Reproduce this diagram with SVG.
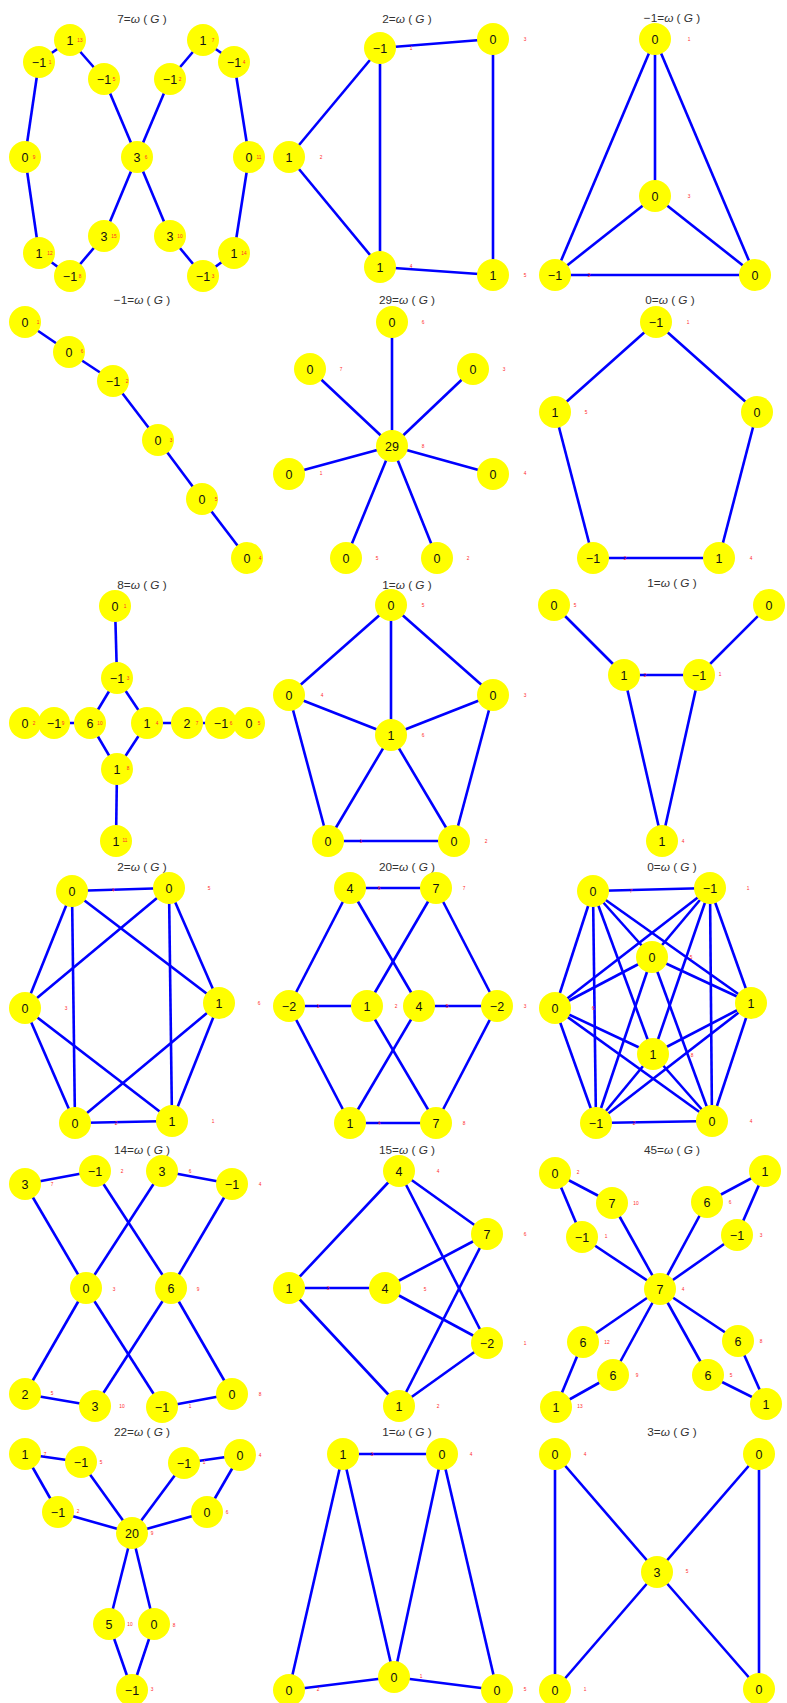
<svg xmlns="http://www.w3.org/2000/svg" width="787" height="1703" viewBox="0 0 787 1703">
<style>
.e line{stroke:#0000ff;stroke-width:2.6}
.n circle{fill:#ffff00}
.v{font-family:"Liberation Sans",Arial,sans-serif;font-size:12.5px;text-anchor:middle;fill:#111}
.l{font-family:"Liberation Sans",Arial,sans-serif;font-size:4.8px;text-anchor:middle;fill:#ff2a2a}
.t{font-family:"Liberation Sans",Arial,sans-serif;font-size:11.8px;text-anchor:middle;fill:#333}
.i{font-style:italic}
</style>
<rect width="787" height="1703" fill="#ffffff"/>
<g id="titles" class="t">
<text x="142" y="23">7=<tspan class="i">ω</tspan> ( <tspan class="i">G</tspan> )</text>
<text x="407" y="23">2=<tspan class="i">ω</tspan> ( <tspan class="i">G</tspan> )</text>
<text x="672" y="22">−1=<tspan class="i">ω</tspan> ( <tspan class="i">G</tspan> )</text>
<text x="142" y="304">−1=<tspan class="i">ω</tspan> ( <tspan class="i">G</tspan> )</text>
<text x="407" y="304">29=<tspan class="i">ω</tspan> ( <tspan class="i">G</tspan> )</text>
<text x="670" y="304">0=<tspan class="i">ω</tspan> ( <tspan class="i">G</tspan> )</text>
<text x="142" y="589">8=<tspan class="i">ω</tspan> ( <tspan class="i">G</tspan> )</text>
<text x="407" y="589">1=<tspan class="i">ω</tspan> ( <tspan class="i">G</tspan> )</text>
<text x="672" y="587">1=<tspan class="i">ω</tspan> ( <tspan class="i">G</tspan> )</text>
<text x="142" y="871">2=<tspan class="i">ω</tspan> ( <tspan class="i">G</tspan> )</text>
<text x="407" y="871">20=<tspan class="i">ω</tspan> ( <tspan class="i">G</tspan> )</text>
<text x="672" y="871">0=<tspan class="i">ω</tspan> ( <tspan class="i">G</tspan> )</text>
<text x="142" y="1154">14=<tspan class="i">ω</tspan> ( <tspan class="i">G</tspan> )</text>
<text x="407" y="1154">15=<tspan class="i">ω</tspan> ( <tspan class="i">G</tspan> )</text>
<text x="672" y="1154">45=<tspan class="i">ω</tspan> ( <tspan class="i">G</tspan> )</text>
<text x="142" y="1436">22=<tspan class="i">ω</tspan> ( <tspan class="i">G</tspan> )</text>
<text x="407" y="1436">1=<tspan class="i">ω</tspan> ( <tspan class="i">G</tspan> )</text>
<text x="672" y="1436">3=<tspan class="i">ω</tspan> ( <tspan class="i">G</tspan> )</text>
</g>
<g id="connectors" class="e">
<!-- P1 -->
<line x1="70" y1="40" x2="39" y2="62"/><line x1="70" y1="40" x2="104" y2="79"/><line x1="39" y1="62" x2="25" y2="157"/><line x1="25" y1="157" x2="39" y2="253"/><line x1="39" y1="253" x2="70" y2="276"/><line x1="70" y1="276" x2="104" y2="236"/><line x1="104" y1="236" x2="137" y2="157"/><line x1="104" y1="79" x2="137" y2="157"/><line x1="170" y1="79" x2="137" y2="157"/><line x1="137" y1="157" x2="170" y2="236"/><line x1="203" y1="40" x2="170" y2="79"/><line x1="203" y1="40" x2="234" y2="62"/><line x1="234" y1="62" x2="249" y2="157"/><line x1="249" y1="157" x2="234" y2="253"/><line x1="234" y1="253" x2="203" y2="276"/><line x1="203" y1="276" x2="170" y2="236"/>
<!-- P2 -->
<line x1="380" y1="48" x2="493" y2="39"/><line x1="380" y1="48" x2="289" y2="157"/><line x1="380" y1="48" x2="380" y2="267"/><line x1="289" y1="157" x2="380" y2="267"/><line x1="380" y1="267" x2="493" y2="275"/><line x1="493" y1="39" x2="493" y2="275"/>
<!-- P3 -->
<line x1="655" y1="39" x2="655" y2="196"/><line x1="655" y1="39" x2="555" y2="275"/><line x1="655" y1="39" x2="755" y2="275"/><line x1="655" y1="196" x2="555" y2="275"/><line x1="655" y1="196" x2="755" y2="275"/><line x1="555" y1="275" x2="755" y2="275"/>
<!-- P4 -->
<line x1="25" y1="322" x2="69" y2="352"/><line x1="69" y1="352" x2="113" y2="381"/><line x1="113" y1="381" x2="158" y2="440"/><line x1="158" y1="440" x2="202" y2="499"/><line x1="202" y1="499" x2="247" y2="558"/>
<!-- P5 -->
<line x1="392" y1="446" x2="392" y2="322"/><line x1="392" y1="446" x2="310" y2="369"/><line x1="392" y1="446" x2="473" y2="369"/><line x1="392" y1="446" x2="289" y2="474"/><line x1="392" y1="446" x2="493" y2="474"/><line x1="392" y1="446" x2="346" y2="558"/><line x1="392" y1="446" x2="437" y2="558"/>
<!-- P6 -->
<line x1="656" y1="322" x2="555" y2="412"/><line x1="656" y1="322" x2="757" y2="412"/><line x1="555" y1="412" x2="593" y2="558"/><line x1="593" y1="558" x2="719" y2="558"/><line x1="719" y1="558" x2="757" y2="412"/>
<!-- P7 -->
<line x1="115" y1="606" x2="117" y2="678"/><line x1="117" y1="678" x2="90" y2="723"/><line x1="117" y1="678" x2="147" y2="723"/><line x1="90" y1="723" x2="117" y2="769"/><line x1="147" y1="723" x2="117" y2="769"/><line x1="117" y1="769" x2="116" y2="841"/><line x1="25" y1="723" x2="54" y2="723"/><line x1="54" y1="723" x2="90" y2="723"/><line x1="147" y1="723" x2="187" y2="723"/><line x1="187" y1="723" x2="221" y2="723"/><line x1="221" y1="723" x2="249" y2="723"/>
<!-- P8 -->
<line x1="391" y1="605" x2="289" y2="695"/><line x1="391" y1="605" x2="391" y2="735"/><line x1="391" y1="605" x2="493" y2="695"/><line x1="289" y1="695" x2="391" y2="735"/><line x1="289" y1="695" x2="328" y2="841"/><line x1="391" y1="735" x2="493" y2="695"/><line x1="391" y1="735" x2="328" y2="841"/><line x1="391" y1="735" x2="454" y2="841"/><line x1="493" y1="695" x2="454" y2="841"/><line x1="328" y1="841" x2="454" y2="841"/>
<!-- P9 -->
<line x1="554" y1="605" x2="624" y2="675"/><line x1="769" y1="605" x2="699" y2="675"/><line x1="624" y1="675" x2="699" y2="675"/><line x1="624" y1="675" x2="662" y2="841"/><line x1="699" y1="675" x2="662" y2="841"/>
<!-- P10 -->
<line x1="72" y1="891" x2="169" y2="888"/><line x1="72" y1="891" x2="25" y2="1008"/><line x1="72" y1="891" x2="75" y2="1123"/><line x1="72" y1="891" x2="219" y2="1003"/><line x1="169" y1="888" x2="25" y2="1008"/><line x1="169" y1="888" x2="172" y2="1121"/><line x1="169" y1="888" x2="219" y2="1003"/><line x1="25" y1="1008" x2="75" y2="1123"/><line x1="25" y1="1008" x2="172" y2="1121"/><line x1="219" y1="1003" x2="75" y2="1123"/><line x1="219" y1="1003" x2="172" y2="1121"/><line x1="75" y1="1123" x2="172" y2="1121"/>
<!-- P11 -->
<line x1="350" y1="888" x2="436" y2="888"/><line x1="350" y1="888" x2="289" y2="1006"/><line x1="350" y1="888" x2="419" y2="1006"/><line x1="436" y1="888" x2="367" y2="1006"/><line x1="436" y1="888" x2="497" y2="1006"/><line x1="289" y1="1006" x2="367" y2="1006"/><line x1="419" y1="1006" x2="497" y2="1006"/><line x1="289" y1="1006" x2="350" y2="1123"/><line x1="367" y1="1006" x2="436" y2="1123"/><line x1="419" y1="1006" x2="350" y2="1123"/><line x1="497" y1="1006" x2="436" y2="1123"/><line x1="350" y1="1123" x2="436" y2="1123"/>
<!-- P12 -->
<line x1="593" y1="891" x2="710" y2="888"/><line x1="593" y1="891" x2="652" y2="957"/><line x1="593" y1="891" x2="555" y2="1008"/><line x1="593" y1="891" x2="751" y2="1003"/><line x1="593" y1="891" x2="653" y2="1054"/><line x1="593" y1="891" x2="596" y2="1123"/>
<line x1="710" y1="888" x2="652" y2="957"/><line x1="710" y1="888" x2="555" y2="1008"/><line x1="710" y1="888" x2="751" y2="1003"/><line x1="710" y1="888" x2="653" y2="1054"/><line x1="710" y1="888" x2="712" y2="1121"/>
<line x1="652" y1="957" x2="555" y2="1008"/><line x1="652" y1="957" x2="751" y2="1003"/><line x1="652" y1="957" x2="596" y2="1123"/><line x1="652" y1="957" x2="712" y2="1121"/>
<line x1="555" y1="1008" x2="653" y2="1054"/><line x1="555" y1="1008" x2="596" y2="1123"/><line x1="555" y1="1008" x2="712" y2="1121"/>
<line x1="751" y1="1003" x2="653" y2="1054"/><line x1="751" y1="1003" x2="596" y2="1123"/><line x1="751" y1="1003" x2="712" y2="1121"/>
<line x1="653" y1="1054" x2="596" y2="1123"/><line x1="653" y1="1054" x2="712" y2="1121"/><line x1="596" y1="1123" x2="712" y2="1121"/>
<!-- P13 -->
<line x1="25" y1="1184" x2="95" y2="1171"/><line x1="25" y1="1184" x2="86" y2="1288"/><line x1="95" y1="1171" x2="171" y2="1288"/><line x1="162" y1="1171" x2="86" y2="1288"/><line x1="162" y1="1171" x2="232" y2="1184"/><line x1="232" y1="1184" x2="171" y2="1288"/><line x1="86" y1="1288" x2="25" y2="1394"/><line x1="86" y1="1288" x2="162" y2="1407"/><line x1="171" y1="1288" x2="95" y2="1406"/><line x1="171" y1="1288" x2="232" y2="1394"/><line x1="25" y1="1394" x2="95" y2="1406"/><line x1="162" y1="1407" x2="232" y2="1394"/>
<!-- P14 -->
<line x1="289" y1="1288" x2="399" y2="1171"/><line x1="289" y1="1288" x2="385" y2="1288"/><line x1="289" y1="1288" x2="399" y2="1406"/><line x1="487" y1="1234" x2="399" y2="1171"/><line x1="487" y1="1234" x2="385" y2="1288"/><line x1="487" y1="1234" x2="399" y2="1406"/><line x1="487" y1="1343" x2="399" y2="1171"/><line x1="487" y1="1343" x2="385" y2="1288"/><line x1="487" y1="1343" x2="399" y2="1406"/>
<!-- P15 -->
<line x1="555" y1="1173" x2="612" y2="1203"/><line x1="555" y1="1173" x2="582" y2="1237"/><line x1="612" y1="1203" x2="660" y2="1289"/><line x1="582" y1="1237" x2="660" y2="1289"/><line x1="765" y1="1171" x2="707" y2="1202"/><line x1="765" y1="1171" x2="737" y2="1235"/><line x1="707" y1="1202" x2="660" y2="1289"/><line x1="737" y1="1235" x2="660" y2="1289"/><line x1="660" y1="1289" x2="583" y2="1342"/><line x1="660" y1="1289" x2="613" y2="1375"/><line x1="583" y1="1342" x2="556" y2="1407"/><line x1="613" y1="1375" x2="556" y2="1407"/><line x1="660" y1="1289" x2="738" y2="1341"/><line x1="660" y1="1289" x2="708" y2="1375"/><line x1="738" y1="1341" x2="766" y2="1404"/><line x1="708" y1="1375" x2="766" y2="1404"/>
<!-- P16 -->
<line x1="25" y1="1454" x2="81" y2="1462"/><line x1="25" y1="1454" x2="58" y2="1512"/><line x1="81" y1="1462" x2="132" y2="1533"/><line x1="58" y1="1512" x2="132" y2="1533"/><line x1="184" y1="1463" x2="240" y2="1455"/><line x1="184" y1="1463" x2="132" y2="1533"/><line x1="240" y1="1455" x2="207" y2="1512"/><line x1="207" y1="1512" x2="132" y2="1533"/><line x1="132" y1="1533" x2="109" y2="1624"/><line x1="132" y1="1533" x2="154" y2="1624"/><line x1="109" y1="1624" x2="132" y2="1690"/><line x1="154" y1="1624" x2="132" y2="1690"/>
<!-- P17 -->
<line x1="343" y1="1454" x2="442" y2="1454"/><line x1="343" y1="1454" x2="289" y2="1690"/><line x1="343" y1="1454" x2="394" y2="1677"/><line x1="442" y1="1454" x2="394" y2="1677"/><line x1="442" y1="1454" x2="497" y2="1690"/><line x1="289" y1="1690" x2="394" y2="1677"/><line x1="394" y1="1677" x2="497" y2="1690"/>
<!-- P18 -->
<line x1="555" y1="1454" x2="555" y2="1690"/><line x1="555" y1="1454" x2="657" y2="1572"/><line x1="759" y1="1454" x2="657" y2="1572"/><line x1="759" y1="1454" x2="759" y2="1689"/><line x1="555" y1="1690" x2="657" y2="1572"/><line x1="759" y1="1689" x2="657" y2="1572"/>
</g>
<g id="nodes">
<!-- P1 -->
<g id="p1-13" class="n"><circle cx="70" cy="40" r="16"/><text class="v" x="70" y="44.5">1</text><text class="l" x="80" y="41.6">13</text></g>
<g id="p1-1" class="n"><circle cx="39" cy="62" r="16"/><text class="v" x="39" y="66.5">−1</text><text class="l" x="50" y="63.6">1</text></g>
<g id="p1-5" class="n"><circle cx="104" cy="79" r="16"/><text class="v" x="104" y="83.5">−1</text><text class="l" x="114" y="80.6">5</text></g>
<g id="p1-9" class="n"><circle cx="25" cy="157" r="16"/><text class="v" x="25" y="161.5">0</text><text class="l" x="34" y="158.6">9</text></g>
<g id="p1-6" class="n"><circle cx="137" cy="157" r="16"/><text class="v" x="137" y="161.5">3</text><text class="l" x="146" y="158.6">6</text></g>
<g id="p1-12" class="n"><circle cx="39" cy="253" r="16"/><text class="v" x="39" y="257.5">1</text><text class="l" x="50" y="254.6">12</text></g>
<g id="p1-8" class="n"><circle cx="70" cy="276" r="16"/><text class="v" x="70" y="280.5">−1</text><text class="l" x="80" y="277.6">8</text></g>
<g id="p1-15" class="n"><circle cx="104" cy="236" r="16"/><text class="v" x="104" y="240.5">3</text><text class="l" x="114" y="237.6">15</text></g>
<g id="p1-7" class="n"><circle cx="203" cy="40" r="16"/><text class="v" x="203" y="44.5">1</text><text class="l" x="213" y="41.6">7</text></g>
<g id="p1-4" class="n"><circle cx="234" cy="62" r="16"/><text class="v" x="234" y="66.5">−1</text><text class="l" x="244" y="63.6">4</text></g>
<g id="p1-2" class="n"><circle cx="170" cy="79" r="16"/><text class="v" x="170" y="83.5">−1</text><text class="l" x="180" y="80.6">2</text></g>
<g id="p1-11" class="n"><circle cx="249" cy="157" r="16"/><text class="v" x="249" y="161.5">0</text><text class="l" x="259" y="158.6">11</text></g>
<g id="p1-10" class="n"><circle cx="170" cy="236" r="16"/><text class="v" x="170" y="240.5">3</text><text class="l" x="180" y="237.6">10</text></g>
<g id="p1-14" class="n"><circle cx="234" cy="253" r="16"/><text class="v" x="234" y="257.5">1</text><text class="l" x="244" y="254.6">14</text></g>
<g id="p1-3" class="n"><circle cx="203" cy="276" r="16"/><text class="v" x="203" y="280.5">−1</text><text class="l" x="213" y="277.6">3</text></g>
<!-- P2 -->
<g id="p2-1" class="n"><circle cx="380" cy="48" r="16"/><text class="v" x="380" y="52.5">−1</text><text class="l" x="411" y="49.6">1</text></g>
<g id="p2-3" class="n"><circle cx="493" cy="39" r="16"/><text class="v" x="493" y="43.5">0</text><text class="l" x="525" y="40.6">3</text></g>
<g id="p2-2" class="n"><circle cx="289" cy="157" r="16"/><text class="v" x="289" y="161.5">1</text><text class="l" x="321" y="158.6">2</text></g>
<g id="p2-4" class="n"><circle cx="380" cy="267" r="16"/><text class="v" x="380" y="271.5">1</text><text class="l" x="411" y="267.6">4</text></g>
<g id="p2-5" class="n"><circle cx="493" cy="275" r="16"/><text class="v" x="493" y="279.5">1</text><text class="l" x="525" y="276.6">5</text></g>
<!-- P3 -->
<g id="p3-1" class="n"><circle cx="655" cy="39" r="16"/><text class="v" x="655" y="43.5">0</text><text class="l" x="689" y="40.6">1</text></g>
<g id="p3-3" class="n"><circle cx="655" cy="196" r="16"/><text class="v" x="655" y="200.5">0</text><text class="l" x="689" y="197.6">3</text></g>
<g id="p3-2" class="n"><circle cx="555" cy="275" r="16"/><text class="v" x="555" y="279.5">−1</text><text class="l" x="589" y="276.6">2</text></g>
<g id="p3-4" class="n"><circle cx="755" cy="275" r="16"/><text class="v" x="755" y="279.5">0</text></g>
<!-- P4 -->
<g id="p4-1" class="n"><circle cx="25" cy="322" r="16"/><text class="v" x="25" y="326.5">0</text><text class="l" x="38" y="323.6">1</text></g>
<g id="p4-6" class="n"><circle cx="69" cy="352" r="16"/><text class="v" x="69" y="356.5">0</text><text class="l" x="82" y="352.6">6</text></g>
<g id="p4-2" class="n"><circle cx="113" cy="381" r="16"/><text class="v" x="113" y="385.5">−1</text><text class="l" x="127" y="382.6">2</text></g>
<g id="p4-3" class="n"><circle cx="158" cy="440" r="16"/><text class="v" x="158" y="444.5">0</text><text class="l" x="171" y="441.6">3</text></g>
<g id="p4-5" class="n"><circle cx="202" cy="499" r="16"/><text class="v" x="202" y="503.5">0</text><text class="l" x="216" y="500.6">5</text></g>
<g id="p4-4" class="n"><circle cx="247" cy="558" r="16"/><text class="v" x="247" y="562.5">0</text><text class="l" x="260" y="559.6">4</text></g>
<!-- P5 -->
<g id="p5-6" class="n"><circle cx="392" cy="322" r="16"/><text class="v" x="392" y="326.5">0</text><text class="l" x="423" y="323.6">6</text></g>
<g id="p5-7" class="n"><circle cx="310" cy="369" r="16"/><text class="v" x="310" y="373.5">0</text><text class="l" x="341" y="370.6">7</text></g>
<g id="p5-3" class="n"><circle cx="473" cy="369" r="16"/><text class="v" x="473" y="373.5">0</text><text class="l" x="504" y="370.6">3</text></g>
<g id="p5-8" class="n"><circle cx="392" cy="446" r="16"/><text class="v" x="392" y="450.5">29</text><text class="l" x="423" y="447.6">8</text></g>
<g id="p5-1" class="n"><circle cx="289" cy="474" r="16"/><text class="v" x="289" y="478.5">0</text><text class="l" x="321" y="474.6">1</text></g>
<g id="p5-4" class="n"><circle cx="493" cy="474" r="16"/><text class="v" x="493" y="478.5">0</text><text class="l" x="525" y="474.6">4</text></g>
<g id="p5-5" class="n"><circle cx="346" cy="558" r="16"/><text class="v" x="346" y="562.5">0</text><text class="l" x="377" y="559.6">5</text></g>
<g id="p5-2" class="n"><circle cx="437" cy="558" r="16"/><text class="v" x="437" y="562.5">0</text><text class="l" x="468" y="559.6">2</text></g>
<!-- P6 -->
<g id="p6-1" class="n"><circle cx="656" cy="322" r="16"/><text class="v" x="656" y="326.5">−1</text><text class="l" x="688" y="323.6">1</text></g>
<g id="p6-5" class="n"><circle cx="555" cy="412" r="16"/><text class="v" x="555" y="416.5">1</text><text class="l" x="586" y="413.6">5</text></g>
<g id="p6-3" class="n"><circle cx="757" cy="412" r="16"/><text class="v" x="757" y="416.5">0</text></g>
<g id="p6-2" class="n"><circle cx="593" cy="558" r="16"/><text class="v" x="593" y="562.5">−1</text><text class="l" x="625" y="559.6">2</text></g>
<g id="p6-4" class="n"><circle cx="719" cy="558" r="16"/><text class="v" x="719" y="562.5">1</text><text class="l" x="751" y="559.6">4</text></g>
<!-- P7 -->
<g id="p7-1" class="n"><circle cx="115" cy="606" r="16"/><text class="v" x="115" y="610.5">0</text><text class="l" x="125" y="607.6">1</text></g>
<g id="p7-3" class="n"><circle cx="117" cy="678" r="16"/><text class="v" x="117" y="682.5">−1</text><text class="l" x="128" y="679.6">3</text></g>
<g id="p7-2" class="n"><circle cx="25" cy="723" r="16"/><text class="v" x="25" y="727.5">0</text><text class="l" x="34" y="724.6">2</text></g>
<g id="p7-9" class="n"><circle cx="54" cy="723" r="16"/><text class="v" x="54" y="727.5">−1</text><text class="l" x="63" y="724.6">9</text></g>
<g id="p7-10" class="n"><circle cx="90" cy="723" r="16"/><text class="v" x="90" y="727.5">6</text><text class="l" x="100" y="724.6">10</text></g>
<g id="p7-4" class="n"><circle cx="147" cy="723" r="16"/><text class="v" x="147" y="727.5">1</text><text class="l" x="157" y="724.6">4</text></g>
<g id="p7-7" class="n"><circle cx="187" cy="723" r="16"/><text class="v" x="187" y="727.5">2</text><text class="l" x="197" y="724.6">7</text></g>
<g id="p7-6" class="n"><circle cx="221" cy="723" r="16"/><text class="v" x="221" y="727.5">−1</text><text class="l" x="231" y="724.6">6</text></g>
<g id="p7-5" class="n"><circle cx="249" cy="723" r="16"/><text class="v" x="249" y="727.5">0</text><text class="l" x="259" y="724.6">5</text></g>
<g id="p7-8" class="n"><circle cx="117" cy="769" r="16"/><text class="v" x="117" y="773.5">1</text><text class="l" x="128" y="769.6">8</text></g>
<g id="p7-11" class="n"><circle cx="116" cy="841" r="16"/><text class="v" x="116" y="845.5">1</text><text class="l" x="125" y="841.6">11</text></g>
<!-- P8 -->
<g id="p8-5" class="n"><circle cx="391" cy="605" r="16"/><text class="v" x="391" y="609.5">0</text><text class="l" x="423" y="606.6">5</text></g>
<g id="p8-4" class="n"><circle cx="289" cy="695" r="16"/><text class="v" x="289" y="699.5">0</text><text class="l" x="322" y="696.6">4</text></g>
<g id="p8-3" class="n"><circle cx="493" cy="695" r="16"/><text class="v" x="493" y="699.5">0</text><text class="l" x="525" y="696.6">3</text></g>
<g id="p8-6" class="n"><circle cx="391" cy="735" r="16"/><text class="v" x="391" y="739.5">1</text><text class="l" x="423" y="736.6">6</text></g>
<g id="p8-1" class="n"><circle cx="328" cy="841" r="16"/><text class="v" x="328" y="845.5">0</text><text class="l" x="361" y="842.6">1</text></g>
<g id="p8-2" class="n"><circle cx="454" cy="841" r="16"/><text class="v" x="454" y="845.5">0</text><text class="l" x="486" y="842.6">2</text></g>
<!-- P9 -->
<g id="p9-5" class="n"><circle cx="554" cy="605" r="16"/><text class="v" x="554" y="609.5">0</text><text class="l" x="575" y="606.6">5</text></g>
<g id="p9-3" class="n"><circle cx="769" cy="605" r="16"/><text class="v" x="769" y="609.5">0</text></g>
<g id="p9-2" class="n"><circle cx="624" cy="675" r="16"/><text class="v" x="624" y="679.5">1</text><text class="l" x="645" y="676.6">2</text></g>
<g id="p9-1" class="n"><circle cx="699" cy="675" r="16"/><text class="v" x="699" y="679.5">−1</text><text class="l" x="720" y="675.6">1</text></g>
<g id="p9-4" class="n"><circle cx="662" cy="841" r="16"/><text class="v" x="662" y="845.5">1</text><text class="l" x="683" y="842.6">4</text></g>
<!-- P10 -->
<g id="p10-4" class="n"><circle cx="72" cy="891" r="16"/><text class="v" x="72" y="895.5">0</text><text class="l" x="113" y="891.6">4</text></g>
<g id="p10-5" class="n"><circle cx="169" cy="888" r="16"/><text class="v" x="169" y="892.5">0</text><text class="l" x="209" y="889.6">5</text></g>
<g id="p10-3" class="n"><circle cx="25" cy="1008" r="16"/><text class="v" x="25" y="1012.5">0</text><text class="l" x="66" y="1009.6">3</text></g>
<g id="p10-6" class="n"><circle cx="219" cy="1003" r="16"/><text class="v" x="219" y="1007.5">1</text><text class="l" x="259" y="1004.6">6</text></g>
<g id="p10-2" class="n"><circle cx="75" cy="1123" r="16"/><text class="v" x="75" y="1127.5">0</text><text class="l" x="116" y="1124.6">2</text></g>
<g id="p10-1" class="n"><circle cx="172" cy="1121" r="16"/><text class="v" x="172" y="1125.5">1</text><text class="l" x="213" y="1122.6">1</text></g>
<!-- P11 -->
<g id="p11-6" class="n"><circle cx="350" cy="888" r="16"/><text class="v" x="350" y="892.5">4</text><text class="l" x="379" y="889.6">6</text></g>
<g id="p11-7" class="n"><circle cx="436" cy="888" r="16"/><text class="v" x="436" y="892.5">7</text><text class="l" x="464" y="889.6">7</text></g>
<g id="p11-1" class="n"><circle cx="289" cy="1006" r="16"/><text class="v" x="289" y="1010.5">−2</text><text class="l" x="318" y="1007.6">1</text></g>
<g id="p11-2" class="n"><circle cx="367" cy="1006" r="16"/><text class="v" x="367" y="1010.5">1</text><text class="l" x="396" y="1007.6">2</text></g>
<g id="p11-5" class="n"><circle cx="419" cy="1006" r="16"/><text class="v" x="419" y="1010.5">4</text><text class="l" x="447" y="1007.6">5</text></g>
<g id="p11-3" class="n"><circle cx="497" cy="1006" r="16"/><text class="v" x="497" y="1010.5">−2</text><text class="l" x="525" y="1007.6">3</text></g>
<g id="p11-4" class="n"><circle cx="350" cy="1123" r="16"/><text class="v" x="350" y="1127.5">1</text><text class="l" x="379" y="1124.6">4</text></g>
<g id="p11-8" class="n"><circle cx="436" cy="1123" r="16"/><text class="v" x="436" y="1127.5">7</text><text class="l" x="464" y="1124.6">8</text></g>
<!-- P12 -->
<g id="p12-7" class="n"><circle cx="593" cy="891" r="16"/><text class="v" x="593" y="895.5">0</text><text class="l" x="631" y="892.6">7</text></g>
<g id="p12-1" class="n"><circle cx="710" cy="888" r="16"/><text class="v" x="710" y="892.5">−1</text><text class="l" x="748" y="889.6">1</text></g>
<g id="p12-5" class="n"><circle cx="652" cy="957" r="16"/><text class="v" x="652" y="961.5">0</text><text class="l" x="691" y="958.6">5</text></g>
<g id="p12-6" class="n"><circle cx="555" cy="1008" r="16"/><text class="v" x="555" y="1012.5">0</text><text class="l" x="593" y="1009.6">6</text></g>
<g id="p12-3" class="n"><circle cx="751" cy="1003" r="16"/><text class="v" x="751" y="1007.5">1</text></g>
<g id="p12-8" class="n"><circle cx="653" cy="1054" r="16"/><text class="v" x="653" y="1058.5">1</text><text class="l" x="692" y="1056.6">8</text></g>
<g id="p12-2" class="n"><circle cx="596" cy="1123" r="16"/><text class="v" x="596" y="1127.5">−1</text><text class="l" x="634" y="1124.6">2</text></g>
<g id="p12-4" class="n"><circle cx="712" cy="1121" r="16"/><text class="v" x="712" y="1125.5">0</text><text class="l" x="751" y="1122.6">4</text></g>
<!-- P13 -->
<g id="p13-7" class="n"><circle cx="25" cy="1184" r="16"/><text class="v" x="25" y="1188.5">3</text><text class="l" x="52" y="1185.6">7</text></g>
<g id="p13-2" class="n"><circle cx="95" cy="1171" r="16"/><text class="v" x="95" y="1175.5">−1</text><text class="l" x="122" y="1172.6">2</text></g>
<g id="p13-6" class="n"><circle cx="162" cy="1171" r="16"/><text class="v" x="162" y="1175.5">3</text><text class="l" x="190" y="1172.6">6</text></g>
<g id="p13-4" class="n"><circle cx="232" cy="1184" r="16"/><text class="v" x="232" y="1188.5">−1</text><text class="l" x="260" y="1185.6">4</text></g>
<g id="p13-3" class="n"><circle cx="86" cy="1288" r="16"/><text class="v" x="86" y="1292.5">0</text><text class="l" x="114" y="1290.6">3</text></g>
<g id="p13-9" class="n"><circle cx="171" cy="1288" r="16"/><text class="v" x="171" y="1292.5">6</text><text class="l" x="198" y="1290.6">9</text></g>
<g id="p13-5" class="n"><circle cx="25" cy="1394" r="16"/><text class="v" x="25" y="1398.5">2</text><text class="l" x="52" y="1394.6">5</text></g>
<g id="p13-10" class="n"><circle cx="95" cy="1406" r="16"/><text class="v" x="95" y="1410.5">3</text><text class="l" x="122" y="1407.6">10</text></g>
<g id="p13-1" class="n"><circle cx="162" cy="1407" r="16"/><text class="v" x="162" y="1411.5">−1</text><text class="l" x="190" y="1407.6">1</text></g>
<g id="p13-8" class="n"><circle cx="232" cy="1394" r="16"/><text class="v" x="232" y="1398.5">0</text><text class="l" x="260" y="1395.6">8</text></g>
<!-- P14 -->
<g id="p14-4" class="n"><circle cx="399" cy="1171" r="16"/><text class="v" x="399" y="1175.5">4</text><text class="l" x="438" y="1172.6">4</text></g>
<g id="p14-6" class="n"><circle cx="487" cy="1234" r="16"/><text class="v" x="487" y="1238.5">7</text><text class="l" x="525" y="1235.6">6</text></g>
<g id="p14-3" class="n"><circle cx="289" cy="1288" r="16"/><text class="v" x="289" y="1292.5">1</text><text class="l" x="328" y="1289.6">3</text></g>
<g id="p14-5" class="n"><circle cx="385" cy="1288" r="16"/><text class="v" x="385" y="1292.5">4</text><text class="l" x="425" y="1290.6">5</text></g>
<g id="p14-1" class="n"><circle cx="487" cy="1343" r="16"/><text class="v" x="487" y="1347.5">−2</text><text class="l" x="525" y="1344.6">1</text></g>
<g id="p14-2" class="n"><circle cx="399" cy="1406" r="16"/><text class="v" x="399" y="1410.5">1</text><text class="l" x="438" y="1407.6">2</text></g>
<!-- P15 -->
<g id="p15-2" class="n"><circle cx="555" cy="1173" r="16"/><text class="v" x="555" y="1177.5">0</text><text class="l" x="578" y="1173.6">2</text></g>
<g id="p15-10" class="n"><circle cx="612" cy="1203" r="16"/><text class="v" x="612" y="1207.5">7</text><text class="l" x="636" y="1204.6">10</text></g>
<g id="p15-1" class="n"><circle cx="582" cy="1237" r="16"/><text class="v" x="582" y="1241.5">−1</text><text class="l" x="606" y="1237.6">1</text></g>
<g id="p15-7" class="n"><circle cx="765" cy="1171" r="16"/><text class="v" x="765" y="1175.5">1</text></g>
<g id="p15-6" class="n"><circle cx="707" cy="1202" r="16"/><text class="v" x="707" y="1206.5">6</text><text class="l" x="730" y="1203.6">6</text></g>
<g id="p15-3" class="n"><circle cx="737" cy="1235" r="16"/><text class="v" x="737" y="1239.5">−1</text><text class="l" x="761" y="1236.6">3</text></g>
<g id="p15-4" class="n"><circle cx="660" cy="1289" r="16"/><text class="v" x="660" y="1293.5">7</text><text class="l" x="683" y="1290.6">4</text></g>
<g id="p15-12" class="n"><circle cx="583" cy="1342" r="16"/><text class="v" x="583" y="1346.5">6</text><text class="l" x="607" y="1343.6">12</text></g>
<g id="p15-9" class="n"><circle cx="613" cy="1375" r="16"/><text class="v" x="613" y="1379.5">6</text><text class="l" x="637" y="1376.6">9</text></g>
<g id="p15-13" class="n"><circle cx="556" cy="1407" r="16"/><text class="v" x="556" y="1411.5">1</text><text class="l" x="580" y="1407.6">13</text></g>
<g id="p15-8" class="n"><circle cx="738" cy="1341" r="16"/><text class="v" x="738" y="1345.5">6</text><text class="l" x="761" y="1342.6">8</text></g>
<g id="p15-5" class="n"><circle cx="708" cy="1375" r="16"/><text class="v" x="708" y="1379.5">6</text><text class="l" x="731" y="1376.6">5</text></g>
<g id="p15-11" class="n"><circle cx="766" cy="1404" r="16"/><text class="v" x="766" y="1408.5">1</text></g>
<!-- P16 -->
<g id="p16-7" class="n"><circle cx="25" cy="1454" r="16"/><text class="v" x="25" y="1458.5">1</text><text class="l" x="45" y="1455.6">7</text></g>
<g id="p16-5" class="n"><circle cx="81" cy="1462" r="16"/><text class="v" x="81" y="1466.5">−1</text><text class="l" x="101" y="1463.6">5</text></g>
<g id="p16-1" class="n"><circle cx="184" cy="1463" r="16"/><text class="v" x="184" y="1467.5">−1</text><text class="l" x="204" y="1463.6">1</text></g>
<g id="p16-4" class="n"><circle cx="240" cy="1455" r="16"/><text class="v" x="240" y="1459.5">0</text><text class="l" x="260" y="1456.6">4</text></g>
<g id="p16-2" class="n"><circle cx="58" cy="1512" r="16"/><text class="v" x="58" y="1516.5">−1</text><text class="l" x="78" y="1512.6">2</text></g>
<g id="p16-6" class="n"><circle cx="207" cy="1512" r="16"/><text class="v" x="207" y="1516.5">0</text><text class="l" x="227" y="1513.6">6</text></g>
<g id="p16-9" class="n"><circle cx="132" cy="1533" r="16"/><text class="v" x="132" y="1537.5">20</text><text class="l" x="152" y="1534.6">9</text></g>
<g id="p16-10" class="n"><circle cx="109" cy="1624" r="16"/><text class="v" x="109" y="1628.5">5</text><text class="l" x="130" y="1625.6">10</text></g>
<g id="p16-8" class="n"><circle cx="154" cy="1624" r="16"/><text class="v" x="154" y="1628.5">0</text><text class="l" x="174" y="1626.6">8</text></g>
<g id="p16-3" class="n"><circle cx="132" cy="1690" r="16"/><text class="v" x="132" y="1694.5">−1</text><text class="l" x="152" y="1690.6">3</text></g>
<!-- P17 -->
<g id="p17-3" class="n"><circle cx="343" cy="1454" r="16"/><text class="v" x="343" y="1458.5">1</text><text class="l" x="372" y="1455.6">3</text></g>
<g id="p17-4" class="n"><circle cx="442" cy="1454" r="16"/><text class="v" x="442" y="1458.5">0</text><text class="l" x="471" y="1455.6">4</text></g>
<g id="p17-2" class="n"><circle cx="289" cy="1690" r="16"/><text class="v" x="289" y="1694.5">0</text><text class="l" x="318" y="1690.6">2</text></g>
<g id="p17-1" class="n"><circle cx="394" cy="1677" r="16"/><text class="v" x="394" y="1681.5">0</text><text class="l" x="421" y="1677.6">1</text></g>
<g id="p17-5" class="n"><circle cx="497" cy="1690" r="16"/><text class="v" x="497" y="1694.5">0</text><text class="l" x="525" y="1690.6">5</text></g>
<!-- P18 -->
<g id="p18-4" class="n"><circle cx="555" cy="1454" r="16"/><text class="v" x="555" y="1458.5">0</text><text class="l" x="585" y="1455.6">4</text></g>
<g id="p18-2" class="n"><circle cx="759" cy="1454" r="16"/><text class="v" x="759" y="1458.5">0</text></g>
<g id="p18-5" class="n"><circle cx="657" cy="1572" r="16"/><text class="v" x="657" y="1576.5">3</text><text class="l" x="687" y="1572.6">5</text></g>
<g id="p18-1" class="n"><circle cx="555" cy="1690" r="16"/><text class="v" x="555" y="1694.5">0</text><text class="l" x="585" y="1690.6">1</text></g>
<g id="p18-3" class="n"><circle cx="759" cy="1689" r="16"/><text class="v" x="759" y="1693.5">0</text></g>
</g>
</svg>
